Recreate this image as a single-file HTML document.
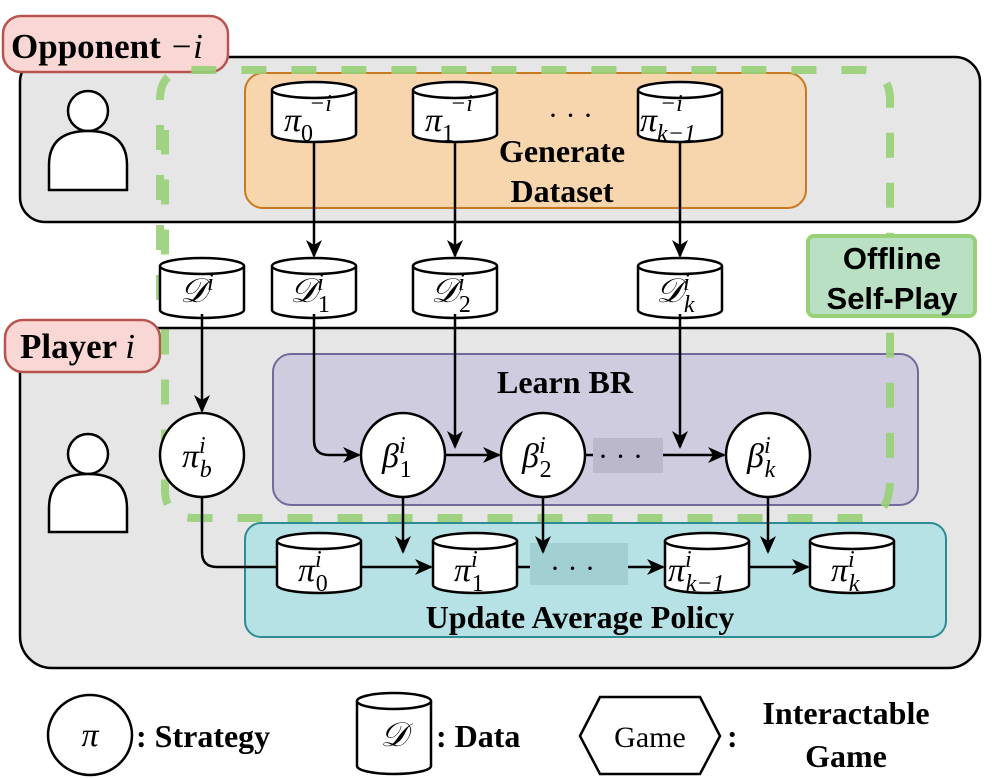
<!DOCTYPE html>
<html><head><meta charset="utf-8"><style>
body{margin:0;background:#fff}
svg{display:block}
.m{font-family:"Liberation Serif",serif;font-style:italic;font-size:34px}
.b{font-family:"Liberation Serif",serif;font-weight:bold}
</style></head><body>
<svg width="997" height="778" viewBox="0 0 997 778" xmlns="http://www.w3.org/2000/svg">
<defs>
<marker id="a" markerWidth="18" markerHeight="18" refX="16" refY="8" orient="auto" markerUnits="userSpaceOnUse" viewBox="0 0 18 16">
<path d="M0,0 L18,8 L0,16 L5,8 Z" fill="#000"/></marker>
<g id="cyl"><path d="M0,8 L0,52 A42,8 0 0 0 84,52 L84,8" fill="#fff" stroke="#000" stroke-width="2.5"/><ellipse cx="42" cy="8" rx="42" ry="8" fill="#fff" stroke="#000" stroke-width="2.5"/></g>
</defs>
<rect x="20" y="57" width="960" height="165" rx="25" fill="#e6e6e6" stroke="#000" stroke-width="2.5"/>
<rect x="245" y="73" width="561" height="135" rx="18" fill="#f7d6ad" stroke="#c97a20" stroke-width="2"/>
<rect x="3" y="16" width="225" height="56" rx="18" fill="#f8d7d5" stroke="#b85450" stroke-width="2.5"/>
<text x="11" y="58" class="b" font-size="35">Opponent <tspan font-weight="normal" font-style="italic">−i</tspan></text>
<circle cx="88" cy="111" r="20" fill="#fff" stroke="#000" stroke-width="2.5"/>
<path d="M49,190 L49,165 Q49,131 88,131 Q127,131 127,165 L127,190 Z" fill="#fff" stroke="#000" stroke-width="2.5"/>
<use href="#cyl" x="272" y="82"/><use href="#cyl" x="413" y="82"/><use href="#cyl" x="638" y="82"/>
<text x="284" y="131" class="m">π<tspan dy="10" font-size="24" font-style="normal">0</tspan><tspan dy="-30" dx="-4" font-size="24">−i</tspan></text>
<text x="425" y="131" class="m">π<tspan dy="10" font-size="24" font-style="normal">1</tspan><tspan dy="-30" dx="-4" font-size="24">−i</tspan></text>
<text x="640" y="131" class="m">π<tspan dy="10" font-size="24">k−1</tspan><tspan dy="-30" dx="-36" font-size="24">−i</tspan></text>
<text x="548" y="125" font-family="Liberation Serif" font-size="30">· · ·</text>
<text x="562" y="162" class="b" font-size="32" text-anchor="middle">Generate</text>
<text x="562" y="202" class="b" font-size="32" text-anchor="middle">Dataset</text>
<rect x="20" y="328" width="960" height="340" rx="32" fill="#e6e6e6" stroke="#000" stroke-width="2.5"/>
<rect x="273" y="354" width="645" height="151" rx="18" fill="#d0cce0" stroke="#736a99" stroke-width="2"/>
<rect x="245" y="523" width="701" height="114" rx="16" fill="#b6e2e5" stroke="#2c8c92" stroke-width="2"/>
<rect x="593" y="438" width="70" height="35" fill="#bcb8cc"/>
<rect x="530" y="543" width="98" height="42" fill="#a2cfd2"/>
<text x="565" y="393" class="b" font-size="32" text-anchor="middle">Learn BR</text>
<text x="580" y="628" class="b" font-size="32" text-anchor="middle">Update Average Policy</text>
<rect x="5" y="320" width="155" height="52" rx="18" fill="#f8d7d5" stroke="#b85450" stroke-width="2.5"/>
<text x="20" y="358" class="b" font-size="35">Player <tspan font-weight="normal" font-style="italic">i</tspan></text>
<circle cx="88" cy="454" r="20" fill="#fff" stroke="#000" stroke-width="2.5"/>
<path d="M49,532 L49,508 Q49,474 88,474 Q127,474 127,508 L127,532 Z" fill="#fff" stroke="#000" stroke-width="2.5"/>
<path d="M160,300 L160,100 Q160,70 190,70 L860,70 Q890,70 890,100 L890,480 Q890,518 860,518 L195,518 Q165,518 165,490 L165,130" fill="none" stroke="#97d077" stroke-width="8" stroke-dasharray="25,25" opacity="0.9"/>
<rect x="808" y="236" width="167" height="80" rx="6" fill="#b9e0c3" stroke="#97d077" stroke-width="4"/>
<text x="892" y="269" font-family="Liberation Sans" font-weight="bold" font-size="31" text-anchor="middle">Offline</text>
<text x="892" y="309" font-family="Liberation Sans" font-weight="bold" font-size="31" text-anchor="middle">Self-Play</text>
<use href="#cyl" x="160" y="258"/><use href="#cyl" x="272" y="258"/><use href="#cyl" x="413" y="258"/><use href="#cyl" x="638" y="258"/>
<text x="180" y="302" class="m">𝒟<tspan dy="-12" font-size="24">i</tspan></text>
<text x="290" y="302" class="m">𝒟<tspan dy="-12" font-size="24">i</tspan><tspan dy="22" dx="-6" font-size="24" font-style="normal">1</tspan></text>
<text x="431" y="302" class="m">𝒟<tspan dy="-12" font-size="24">i</tspan><tspan dy="22" dx="-6" font-size="24" font-style="normal">2</tspan></text>
<text x="656" y="302" class="m">𝒟<tspan dy="-12" font-size="24">i</tspan><tspan dy="22" dx="-6" font-size="24">k</tspan></text>
<g fill="none" stroke="#000" stroke-width="2.5" marker-end="url(#a)">
<path d="M314,142 V256"/><path d="M455,142 V256"/><path d="M680,142 V256"/>
<path d="M202,314 V411"/>
<path d="M314,314 V440 Q314,455 329,455 H359"/>
<path d="M455,314 V447"/><path d="M680,314 V447"/>
<path d="M445,455 H499"/><path d="M663,455 H724"/>
<path d="M403,497 V552"/><path d="M543,497 V552"/><path d="M768,497 V552"/>
<path d="M362,567 H431"/><path d="M628,567 H663"/><path d="M750,567 H808"/>
</g>
<path d="M585,455 H593" stroke="#000" stroke-width="2.5"/>
<path d="M517,567 H530" stroke="#000" stroke-width="2.5"/>
<path d="M202,497 V552 Q202,567 217,567 H277" fill="none" stroke="#000" stroke-width="2.5"/>
<text x="598" y="466" font-family="Liberation Serif" font-size="30">· · ·</text>
<text x="550" y="578" font-family="Liberation Serif" font-size="30">· · ·</text>
<g fill="#fff" stroke="#000" stroke-width="2.5">
<circle cx="202" cy="455" r="42"/><circle cx="403" cy="455" r="42"/><circle cx="543" cy="455" r="42"/><circle cx="768" cy="455" r="42"/>
</g>
<text x="182" y="467" class="m">π<tspan dy="-14" font-size="24">i</tspan><tspan dy="24" dx="-6" font-size="24">b</tspan></text>
<text x="382" y="467" class="m">β<tspan dy="-14" font-size="24">i</tspan><tspan dy="24" dx="-6" font-size="24" font-style="normal">1</tspan></text>
<text x="522" y="467" class="m">β<tspan dy="-14" font-size="24">i</tspan><tspan dy="24" dx="-6" font-size="24" font-style="normal">2</tspan></text>
<text x="747" y="467" class="m">β<tspan dy="-14" font-size="24">i</tspan><tspan dy="24" dx="-6" font-size="24">k</tspan></text>
<use href="#cyl" x="277" y="533"/><use href="#cyl" x="433" y="533"/><use href="#cyl" x="665" y="533"/><use href="#cyl" x="810" y="533"/>
<text x="298" y="581" class="m">π<tspan dy="-14" font-size="24">i</tspan><tspan dy="24" dx="-6" font-size="24" font-style="normal">0</tspan></text>
<text x="454" y="581" class="m">π<tspan dy="-14" font-size="24">i</tspan><tspan dy="24" dx="-6" font-size="24" font-style="normal">1</tspan></text>
<text x="668" y="581" class="m">π<tspan dy="-14" font-size="24">i</tspan><tspan dy="24" dx="-6" font-size="24">k−1</tspan></text>
<text x="831" y="581" class="m">π<tspan dy="-14" font-size="24">i</tspan><tspan dy="24" dx="-6" font-size="24">k</tspan></text>
<ellipse cx="90" cy="735" rx="42" ry="40" fill="#fff" stroke="#000" stroke-width="2.5"/>
<text x="90" y="746" class="m" font-size="28" text-anchor="middle">π</text>
<text x="136" y="747" class="b" font-size="32">: Strategy</text>
<path d="M357,701 L357,766 A37,8 0 0 0 431,766 L431,701" fill="#fff" stroke="#000" stroke-width="2.5"/>
<ellipse cx="394" cy="701" rx="37" ry="8" fill="#fff" stroke="#000" stroke-width="2.5"/>
<text x="394" y="746" class="m" font-size="30" text-anchor="middle">𝒟</text>
<text x="436" y="747" class="b" font-size="32">: Data</text>
<polygon points="580,736 600,697 700,697 720,736 700,774 600,774" fill="#fff" stroke="#000" stroke-width="2.5"/>
<text x="650" y="747" font-family="Liberation Serif" font-size="30" text-anchor="middle">Game</text>
<text x="727" y="747" class="b" font-size="32">:</text>
<text x="846" y="724" class="b" font-size="32" text-anchor="middle">Interactable</text>
<text x="846" y="767" class="b" font-size="32" text-anchor="middle">Game</text>
</svg>
</body></html>
